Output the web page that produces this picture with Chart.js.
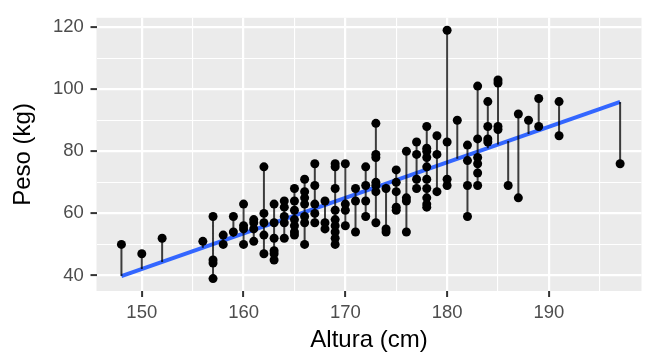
<!DOCTYPE html>
<html><head><meta charset="utf-8">
<script src="https://cdn.jsdelivr.net/npm/chart.js@4.4.1/dist/chart.umd.min.js"></script>
<style>html,body{margin:0;padding:0;background:#fff;overflow:hidden}canvas{display:block}</style>
</head><body>
<canvas id="c" width="646" height="352"></canvas>
<script>
const alturas = [
  148,150,152,156,
  157,157,157,157, 158,158, 159,159,
  160,160,160,160, 161,161,161,161,
  162,162,162,162,162, 163,163,163,163,163,163,
  164,164,164,164,164, 165,165,165,165,165,165,165,
  166,166,166,166,166,166,166, 167,167,167,167,167,
  168,168,168, 169,169,169,169,169,169,169,169,169,
  170,170,170,170, 171,171,171, 172,172,172,172,
  173,173,173,173,173,173,173, 174,174,174,
  175,175,175,175,175, 176,176,176,176, 177,177,177,177,
  178,178,178,178,178,178,178,178,178,178, 179,179,179,
  180,180,180,180, 181, 182,182,182,182,
  183,183,183,183,183,183, 184,184,184,184, 185,185,185,185,
  186, 187,187, 188, 189,189, 191,191, 197
];
const pesos = [
  50,47,52,51,
  59,45,44,39, 53,50, 59,54,
  63,56,55,50, 58,57,55,51,
  75,60,57,53,47, 63,57,52,48,47,45,
  64,62,59,57,52, 68,64,61,58,56,54,53,
  71,67,65,63,59,57,50, 76,69,63,60,57,
  64,57,55, 76,75,68,61,58,56,54,52,50,
  76,63,61,56, 68,64,54, 75,69,64,59,
  89,79,78,70,69,67,57, 68,55,54,
  74,70,67,62,61, 80,65,64,54, 83,79,71,68,
  88,81,80,78,75,71,68,65,63,62, 85,79,67,
  119,83,71,69, 90, 82,77,69,59,
  101,84,78,76,73,69, 96,88,84,83, 103,102,88,87,
  69, 92,65, 90, 97,88, 96,85, 76
];
// Fitted regression line (end points)
const ajusteX = [148, 197];
const ajusteY = [39.8, 95.9];
// Axis ticks (major + minor grid)
const xTicks = [150,155,160,165,170,175,180,185,190,195];
const yTicks = [40,50,60,70,80,90,100,110,120];

const FONT = "'Liberation Sans', Arial, Helvetica, sans-serif";
const pendiente = (ajusteY[1]-ajusteY[0])/(ajusteX[1]-ajusteX[0]);
const ajustado = x => ajusteY[0] + (x-ajusteX[0])*pendiente;

const puntos = alturas.map((a,i)=>({x:a, y:pesos[i]}));
const residuos = [];
alturas.forEach((a,i)=>{
  residuos.push({x:a, y:ajustado(a)});
  residuos.push({x:a, y:pesos[i]});
  residuos.push({x:a, y:null});
});
const linea = ajusteX.map((x,i)=>({x:x, y:ajusteY[i]}));

const fondo = {id:'fondo', beforeDraw(chart){
  const {ctx, chartArea:a} = chart;
  ctx.save(); ctx.fillStyle = '#EBEBEB';
  ctx.fillRect(a.left, a.top, a.right-a.left, a.bottom-a.top);
  ctx.restore();
}};

new Chart(document.getElementById('c'), {
  type: 'scatter',
  data: { datasets: [
    { data: puntos, backgroundColor:'#000', borderWidth:0, pointRadius:4.5, order:0 },
    { data: residuos, showLine:true, spanGaps:false, borderColor:'rgba(0,0,0,0.75)', borderWidth:2, pointRadius:0, order:1 },
    { data: linea, showLine:true, borderColor:'#3366FF', borderWidth:4, pointRadius:0, order:2 }
  ]},
  options: {
    responsive:false, animation:false, devicePixelRatio:1,
    layout:{padding:{top:9.4,left:0,right:0,bottom:0}},
    plugins:{legend:{display:false}, tooltip:{enabled:false}},
    scales:{
      x:{ type:'linear', min:145.55, max:199.1,
        afterBuildTicks: s => { s.ticks = xTicks.map(v=>({value:v})); },
        afterFit: s => { s.height = 61; },
        ticks:{ callback: v => v%10===0 ? String(v) : '', color:'#4D4D4D', font:{family:FONT, size:18.5}, padding:4.5, maxRotation:0, autoSkip:false },
        grid:{ color:'#FFFFFF', lineWidth: c => (c.tick && c.tick.value%10===0) ? 2.2 : 1.1, tickLength:6,
               tickColor: c => (c.tick && c.tick.value%10===0) ? '#333333' : 'rgba(0,0,0,0)', tickWidth:2 },
        border:{display:false},
        title:{display:true, text:'Altura (cm)', color:'#000', font:{family:FONT, size:24, lineHeight:1}, padding:{top:0,bottom:0}}
      },
      y:{ type:'linear', min:35, max:123,
        afterBuildTicks: s => { s.ticks = yTicks.map(v=>({value:v})); },
        afterFit: s => { s.width = 96.5; },
        ticks:{ callback: v => v%20===0 ? String(v) : '', color:'#4D4D4D', font:{family:FONT, size:18.5}, padding:6.7, autoSkip:false },
        grid:{ color:'#FFFFFF', lineWidth: c => (c.tick && c.tick.value%20===0) ? 2.2 : 1.1, tickLength:6,
               tickColor: c => (c.tick && c.tick.value%20===0) ? '#333333' : 'rgba(0,0,0,0)', tickWidth:2 },
        border:{display:false},
        title:{display:true, text:'Peso (kg)', color:'#000', font:{family:FONT, size:24, lineHeight:1}, padding:{top:11.2,bottom:0}}
      }
    }
  },
  plugins:[fondo]
});
</script>
</body></html>
